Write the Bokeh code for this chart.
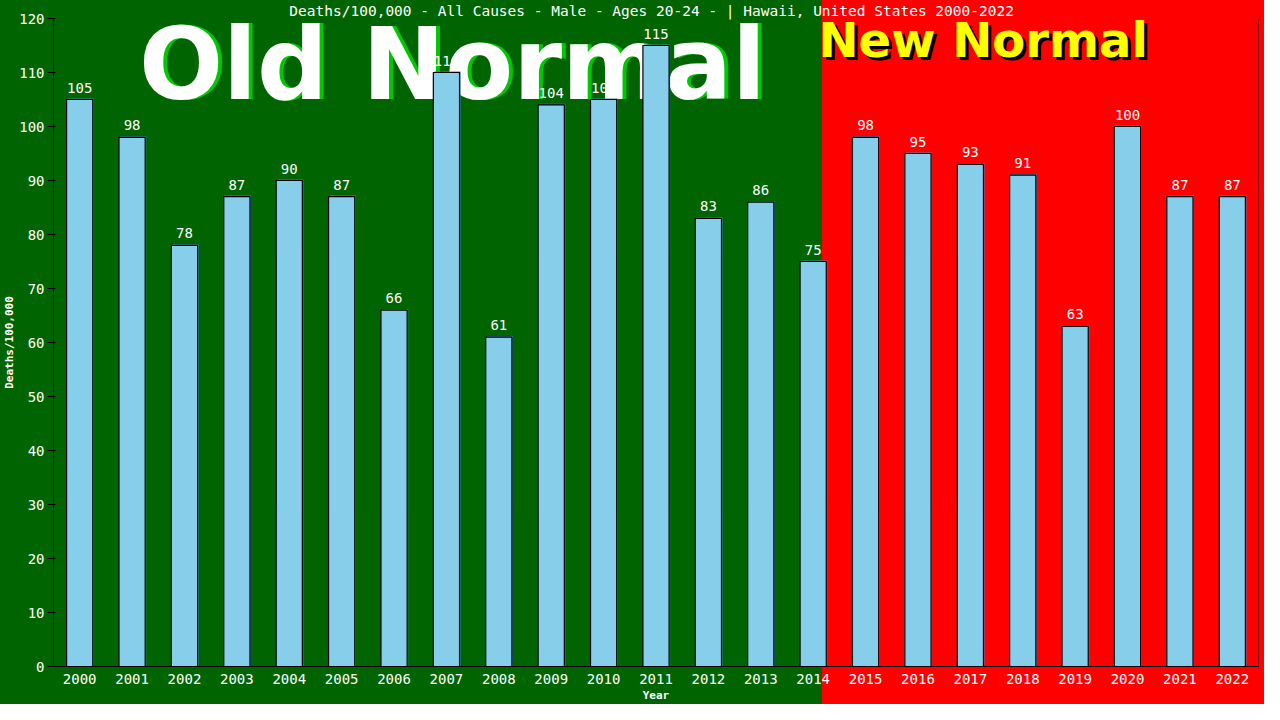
from bokeh.plotting import figure
from bokeh.models import Range1d, FixedTicker, ColumnDataSource, Span
from bokeh.transform import dodge
from bokeh.core.properties import value
from bokeh.embed import file_html
from bokeh.resources import INLINE

years = list(range(2000, 2023))
deaths = [105, 98, 78, 87, 90, 87, 66, 110, 61, 104, 105, 115, 83, 86, 75,
          98, 95, 93, 91, 63, 100, 87, 87]
y_ticks = list(range(0, 121, 10))
title_text = "Deaths/100,000 - All Causes - Male - Ages 20-24 -  | Hawaii, United States 2000-2022"
split_year = 2014.18

src = ColumnDataSource(dict(
    year=years,
    deaths=deaths,
    shadow_top=[d + 0.2 for d in deaths],
    label=[str(d) for d in deaths],
))

W, H = 1264, 704
mono = "DejaVu Sans Mono"
p = figure(width=W, height=H, x_range=Range1d(1999.5, 2022.5), y_range=Range1d(0, 120),
           output_backend="svg", toolbar_location=None, title=title_text,
           min_border_left=52, min_border_right=6, min_border_top=0, min_border_bottom=35)

p.title.text_color = "white"
p.title.text_font = mono
p.title.text_font_style = "normal"
p.title.text_font_size = "14.5px"
p.title.align = "center"
p.title.standoff = 0

p.background_fill_color = None
p.border_fill_color = None
p.outline_line_color = None
split_px = 53 + (split_year - 1999.5) / 23 * (W - 53 - 6)
p.styles = {"background": f"linear-gradient(to right, #006400 0px, #006400 {split_px:.0f}px, #ff0000 {split_px:.0f}px, #ff0000 100%)"}
p.grid.visible = False

# big labels
big = dict(text_font=value("DejaVu Sans"), text_font_style="bold",
           text_baseline="middle", text_align="left")
p.text(x=[2001.13], y=[111.5], text=["Old Normal"], x_offset=4, text_color="#00C800",
       text_font_size="99px", **big)
p.text(x=[2001.13], y=[111.5], text=["Old Normal"], text_color="white",
       text_font_size="99px", **big)
p.text(x=[2014.10], y=[116.0], text=["New Normal"], x_offset=3, y_offset=3, text_color="black",
       text_font_size="48px", **big)
p.text(x=[2014.10], y=[116.0], text=["New Normal"], text_color="#FFFF00",
       text_font_size="48px", **big)

# bars
p.vbar(x=dodge("year", 0.02, range=p.x_range), top="shadow_top", width=0.5, bottom=0,
       source=src, fill_color="#4682B4", line_color=None)
p.vbar(x="year", top="deaths", width=0.5, bottom=0, source=src,
       fill_color="#87CEEB", line_color="black", line_width=1.2)

p.text(x="year", y="deaths", text="label", source=src, y_offset=-12,
       text_color="white", text_font=value(mono), text_font_size="14px",
       text_align="center", text_baseline="middle")

# right border line
p.add_layout(Span(location=2022.5, dimension="height", line_color="black", line_width=1))

# axes
p.xaxis.ticker = FixedTicker(ticks=years)
p.yaxis.ticker = FixedTicker(ticks=y_ticks)
for ax in (p.xaxis, p.yaxis):
    ax.axis_line_color = "black"
    ax.major_tick_line_color = "black"
    ax.minor_tick_line_color = None
    ax.major_label_text_color = "white"
    ax.major_label_text_font = mono
    ax.major_label_text_font_size = "14px"
    ax.axis_label_text_color = "white"
    ax.axis_label_text_font = mono
    ax.axis_label_text_font_style = "bold"
p.xaxis.major_tick_out = 0
p.xaxis.major_tick_in = 0
p.xaxis.major_label_standoff = 7
p.xaxis.axis_label = "Year"
p.xaxis.axis_label_text_font_size = "11px"
p.xaxis.axis_label_standoff = 2
p.yaxis.major_tick_out = 6
p.yaxis.major_tick_in = 2
p.yaxis.major_label_standoff = 3
p.yaxis.axis_label = "Deaths/100,000"
p.yaxis.axis_label_text_font_size = "11px"
p.yaxis.axis_label_standoff = 0

open("out.html", "w").write(file_html(p, INLINE))
